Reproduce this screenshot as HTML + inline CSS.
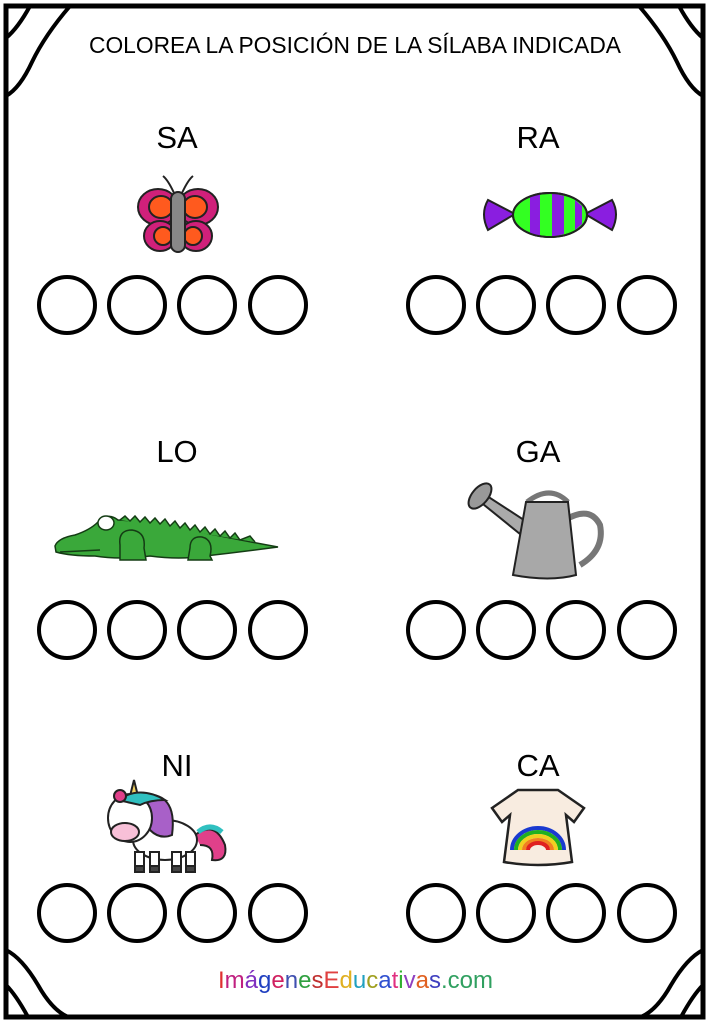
<!DOCTYPE html>
<html><head><meta charset="utf-8"><style>
html,body{margin:0;padding:0;background:#fff;}
svg{display:block;}
</style></head><body>
<svg width="709" height="1024" viewBox="0 0 709 1024" xmlns="http://www.w3.org/2000/svg">
<rect x="0" y="0" width="709" height="1024" fill="#fff"/>
<rect x="6" y="6" width="697" height="1011" fill="none" stroke="#000" stroke-width="5"/>
<g fill="none" stroke="#000" stroke-width="4">
<path d="M30 6 Q18 28 6 38"/>
<path d="M70 6 Q45 35 32 62 Q20 88 6 96"/>
<path d="M679 6 Q691 28 703 38"/>
<path d="M639 6 Q664 35 677 62 Q689 88 703 96"/>
<path d="M6 950 Q22 958 38 985 Q52 1010 68 1017"/>
<path d="M6 985 Q16 995 28 1017"/>
<path d="M703 950 Q687 958 671 985 Q657 1010 641 1017"/>
<path d="M703 985 Q693 995 681 1017"/>
</g>
<text x="89" y="53" textLength="532" lengthAdjust="spacingAndGlyphs" font-family="Liberation Sans, sans-serif" font-size="23" fill="#000">COLOREA LA POSICIÓN DE LA SÍLABA INDICADA</text>
<g font-family="Liberation Sans, sans-serif" font-size="31" text-anchor="middle" fill="#000">
<text x="177" y="148">SA</text>
<text x="538" y="148">RA</text>
<text x="177" y="462">LO</text>
<text x="538" y="462">GA</text>
<text x="177" y="776">NI</text>
<text x="538" y="776">CA</text>
</g>
<g fill="none" stroke="#000" stroke-width="4">
<circle cx="67" cy="305" r="28"/><circle cx="137" cy="305" r="28"/><circle cx="207" cy="305" r="28"/><circle cx="278" cy="305" r="28"/>
<circle cx="436" cy="305" r="28"/><circle cx="506" cy="305" r="28"/><circle cx="576" cy="305" r="28"/><circle cx="647" cy="305" r="28"/>
<circle cx="67" cy="630" r="28"/><circle cx="137" cy="630" r="28"/><circle cx="207" cy="630" r="28"/><circle cx="278" cy="630" r="28"/>
<circle cx="436" cy="630" r="28"/><circle cx="506" cy="630" r="28"/><circle cx="576" cy="630" r="28"/><circle cx="647" cy="630" r="28"/>
<circle cx="67" cy="913" r="28"/><circle cx="137" cy="913" r="28"/><circle cx="207" cy="913" r="28"/><circle cx="278" cy="913" r="28"/>
<circle cx="436" cy="913" r="28"/><circle cx="506" cy="913" r="28"/><circle cx="576" cy="913" r="28"/><circle cx="647" cy="913" r="28"/>
</g>
<!-- butterfly -->
<g stroke="#222" stroke-width="2">
<ellipse cx="158" cy="207" rx="20" ry="18" fill="#d0207a"/>
<ellipse cx="198" cy="207" rx="20" ry="18" fill="#d0207a"/>
<ellipse cx="160" cy="236" rx="16" ry="15" fill="#d0207a"/>
<ellipse cx="196" cy="236" rx="16" ry="15" fill="#d0207a"/>
<ellipse cx="161" cy="207" rx="12" ry="11" fill="#ff5a1e"/>
<ellipse cx="195" cy="207" rx="12" ry="11" fill="#ff5a1e"/>
<ellipse cx="163" cy="236" rx="9" ry="9" fill="#ff5a1e"/>
<ellipse cx="193" cy="236" rx="9" ry="9" fill="#ff5a1e"/>
<rect x="171" y="192" width="14" height="60" rx="7" fill="#888"/>
<path d="M174 193 Q168 180 163 176 M182 193 Q188 180 193 176" fill="none"/>
</g>
<!-- candy -->
<g stroke="#222" stroke-width="2">
<path d="M515 214 L488 200 Q480 214 488 230 Z" fill="#8a1ee0"/>
<path d="M585 214 L612 200 Q620 214 612 230 Z" fill="#8a1ee0"/>
<ellipse cx="550" cy="215" rx="37" ry="22" fill="#33ff22"/>
<path d="M530 197 L530 233 L540 236 L540 194 Z M552 193 L552 237 L564 234 L564 196 Z M575 200 L575 230 L582 224 L582 206 Z" fill="#8a1ee0" stroke="none"/>
<ellipse cx="550" cy="215" rx="37" ry="22" fill="none"/>
</g>
<!-- crocodile -->
<g stroke="#143c14" stroke-width="1.5" fill="#3aa83a">
<path d="M55 546 Q58 538 75 535 Q90 530 98 522 Q108 512 118 520 Q160 522 200 532 Q240 540 278 547 Q240 552 205 556 Q180 560 150 556 Q120 560 95 556 Q70 556 56 552 Z"/>
<path d="M120 520 L125 516 L130 521 L135 516 L140 522 L145 517 L150 523 L155 518 L160 524 L165 519 L170 526 L175 521 L180 528 L185 523 L190 530 L195 525 L200 532 L205 527 L210 534 L215 529 L220 536 L225 531 L230 538 L235 533 L240 540 L250 536 L255 542" fill="#3aa83a"/>
<ellipse cx="106" cy="523" rx="8" ry="7" fill="#fff"/>
<path d="M120 545 Q118 530 132 530 Q146 532 144 548 L146 560 L120 560 Z"/>
<path d="M190 548 Q190 536 202 537 Q214 540 210 556 L212 560 L188 560 Z"/>
<path d="M60 552 L100 550" fill="none"/>
</g>
<!-- watering can -->
<g stroke="#222" stroke-width="2">
<path d="M520 534 L478 500 L484 494 L524 520 Z" fill="#aaa"/>
<ellipse cx="480" cy="496" rx="8" ry="15" transform="rotate(40 480 496)" fill="#999"/>
<path d="M565 520 Q590 505 600 525 Q605 550 580 565" fill="none" stroke="#777" stroke-width="6"/>
<path d="M527 502 Q550 484 568 502" fill="none" stroke="#777" stroke-width="5"/>
<path d="M526 502 L568 502 L576 575 Q550 582 513 575 Z" fill="#a8a8a8"/>
</g>
<!-- unicorn -->
<g stroke="#222" stroke-width="2">
<path d="M195 835 Q215 820 225 845 Q228 862 212 860 Q215 845 200 845" fill="#e0408a"/>
<path d="M198 832 Q210 822 222 832" fill="none" stroke="#30c0c0" stroke-width="5"/>
<ellipse cx="165" cy="840" rx="32" ry="20" fill="#fff"/>
<rect x="135" y="852" width="9" height="20" fill="#fff"/><rect x="150" y="852" width="9" height="20" fill="#fff"/>
<rect x="172" y="852" width="9" height="20" fill="#fff"/><rect x="186" y="852" width="9" height="20" fill="#fff"/>
<rect x="135" y="866" width="9" height="6" fill="#444"/><rect x="150" y="866" width="9" height="6" fill="#444"/>
<rect x="172" y="866" width="9" height="6" fill="#444"/><rect x="186" y="866" width="9" height="6" fill="#444"/>
<path d="M140 795 Q178 790 172 835 Q160 840 150 830 Z" fill="#a860c8"/>
<ellipse cx="130" cy="818" rx="22" ry="24" fill="#fff"/>
<ellipse cx="125" cy="832" rx="14" ry="9" fill="#f8c0d8"/>
<path d="M130 796 L134 780 L138 796 Z" fill="#f0d060"/>
<path d="M118 800 Q140 785 165 800 Q150 800 140 805 Z" fill="#30c0c0"/>
<circle cx="120" cy="796" r="6" fill="#e0408a"/>
</g>
<!-- shirt -->
<g stroke="#222" stroke-width="2.5">
<path d="M518 790 L558 790 L584 808 L574 822 L566 815 L572 862 Q538 868 504 862 L510 815 L502 822 L492 808 Z" fill="#f8ece0"/>
</g>
<g fill="none" stroke-width="4">
<path d="M512 850 A26 22 0 0 1 564 850" stroke="#1a3ad0"/>
<path d="M516 850 A22 18 0 0 1 560 850" stroke="#20b020"/>
<path d="M520 850 A18 14 0 0 1 556 850" stroke="#f0d020"/>
<path d="M524 850 A14 10 0 0 1 552 850" stroke="#f08020"/>
<path d="M528 850 A10 7 0 0 1 548 850" stroke="#e02020"/>
</g>
<text x="218" y="988" textLength="275" lengthAdjust="spacingAndGlyphs" font-family="Liberation Sans, sans-serif" font-size="24"><tspan fill="#e03030">I</tspan><tspan fill="#c02080">m</tspan><tspan fill="#8030c0">á</tspan><tspan fill="#2040c0">g</tspan><tspan fill="#d02060">e</tspan><tspan fill="#4050b0">n</tspan><tspan fill="#30a040">e</tspan><tspan fill="#c03030">s</tspan><tspan fill="#e04040">E</tspan><tspan fill="#e0b020">d</tspan><tspan fill="#20a0c0">u</tspan><tspan fill="#a0a020">c</tspan><tspan fill="#3050d0">a</tspan><tspan fill="#e03080">t</tspan><tspan fill="#30b030">i</tspan><tspan fill="#9040c0">v</tspan><tspan fill="#e06020">a</tspan><tspan fill="#4040c0">s</tspan><tspan fill="#30a060">.com</tspan></text>
</svg>
</body></html>
